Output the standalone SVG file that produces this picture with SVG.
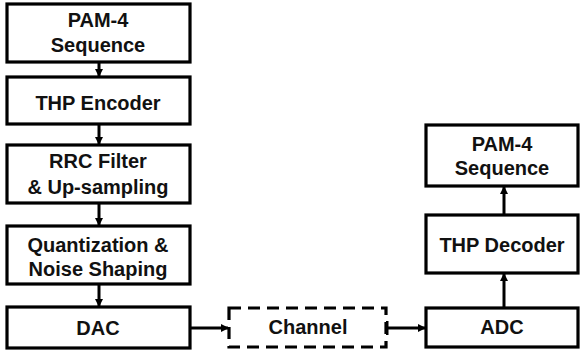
<svg xmlns="http://www.w3.org/2000/svg" width="580" height="356" viewBox="0 0 580 356">
<defs>
<marker id="ah" markerWidth="8" markerHeight="8" refX="7" refY="4" orient="auto" markerUnits="userSpaceOnUse">
<path d="M0,0 L8,4 L0,8 Z" fill="#000"/>
</marker>
<style>
.box{fill:#fff;stroke:#000;stroke-width:3.2}
.dash{fill:#fff;stroke:#000;stroke-width:3.2;stroke-dasharray:12,7}
.t{font-family:"Liberation Sans",Arial,sans-serif;font-weight:bold;font-size:20px;fill:#111;text-anchor:middle}
.c{stroke:#000;stroke-width:3;fill:none}
</style>
</defs>
<g id="connectors">
<line class="c" x1="99" y1="62" x2="99" y2="76" marker-end="url(#ah)"/>
<line class="c" x1="99" y1="124" x2="99" y2="144" marker-end="url(#ah)"/>
<line class="c" x1="99" y1="203" x2="99" y2="225" marker-end="url(#ah)"/>
<line class="c" x1="99" y1="284" x2="99" y2="306" marker-end="url(#ah)"/>
<line class="c" x1="190" y1="328" x2="228" y2="328" marker-end="url(#ah)"/>
<line class="c" x1="387" y1="321" x2="387" y2="335"/>
<line class="c" x1="387" y1="328" x2="425" y2="328" marker-end="url(#ah)"/>
<line class="c" x1="504" y1="307" x2="504" y2="274" marker-end="url(#ah)"/>
<line class="c" x1="504" y1="215" x2="504" y2="187" marker-end="url(#ah)"/>
</g>
<g id="pam4-tx">
<rect class="box" x="7" y="4" width="183" height="58"/>
<text class="t" x="98" y="27">PAM-4</text>
<text class="t" x="98" y="52">Sequence</text>
</g>
<g id="thp-encoder">
<rect class="box" x="7" y="77" width="183" height="47"/>
<text class="t" x="98" y="110">THP Encoder</text>
</g>
<g id="rrc-filter">
<rect class="box" x="7" y="145" width="183" height="58"/>
<text class="t" x="98" y="168">RRC Filter</text>
<text class="t" x="98" y="194">&amp; Up-sampling</text>
</g>
<g id="quantization">
<rect class="box" x="7" y="226" width="183" height="58"/>
<text class="t" x="98" y="252">Quantization &amp;</text>
<text class="t" x="98" y="276">Noise Shaping</text>
</g>
<g id="dac">
<rect class="box" x="7" y="307" width="183" height="41"/>
<text class="t" x="98" y="335">DAC</text>
</g>
<g id="channel">
<rect class="dash" x="229" y="308" width="157" height="39"/>
<text class="t" x="308" y="334">Channel</text>
</g>
<g id="adc">
<rect class="box" x="426" y="308" width="152" height="39"/>
<text class="t" x="502" y="334">ADC</text>
</g>
<g id="thp-decoder">
<rect class="box" x="426" y="215" width="152" height="58"/>
<text class="t" x="502" y="252">THP Decoder</text>
</g>
<g id="pam4-rx">
<rect class="box" x="426" y="125" width="152" height="61"/>
<text class="t" x="502" y="151">PAM-4</text>
<text class="t" x="502" y="175">Sequence</text>
</g>
</svg>
